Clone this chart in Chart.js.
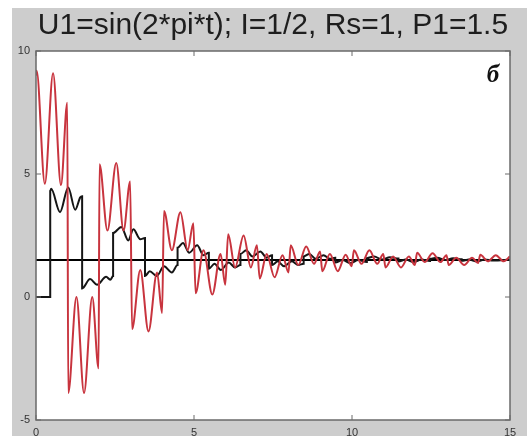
<!DOCTYPE html>
<html>
<head>
<meta charset="utf-8">
<script src="https://cdn.jsdelivr.net/npm/chart.js@4.4.1/dist/chart.umd.min.js"></script>
<style>
  html, body { margin: 0; padding: 0; background: #fff; }
  #wrap { width: 527px; height: 436px; }
</style>
</head>
<body>
<div id="wrap"><canvas id="c" width="527" height="436"></canvas></div>
<script>
// values
const titleText = 'U1=sin(2*pi*t); I=1/2, Rs=1, P1=1.5';
const panelLabel = 'б';
const xTicks = [0, 5, 10, 15];
const yTicks = [-5, 0, 5, 10];

// red curve: extremes and jump points
const redT = [
  0.00, 0.02, 0.28, 0.54, 0.79, 0.99,
  1.02, 1.28, 1.52, 1.78, 1.98,
  2.01, 2.26, 2.54, 2.77, 2.98,
  3.04, 3.30, 3.56, 3.83, 3.99,
  4.05, 4.30, 4.57, 4.80, 4.98,
  5.05, 5.30, 5.58, 5.84, 5.99,
  6.08, 6.30, 6.57, 6.80, 6.99,
  7.08, 7.30, 7.55, 7.80, 7.99,
  8.06, 8.30, 8.55, 8.80, 8.99,
  9.06, 9.30, 9.55, 9.80, 9.99,
  10.06, 10.30, 10.55, 10.80, 10.99,
  11.06, 11.30, 11.55, 11.80, 11.99,
  12.06, 12.30, 12.55, 12.80, 12.99,
  13.06, 13.30, 13.55, 13.80, 13.99,
  14.06, 14.30, 14.55, 14.80, 15.00
];
const redY = [
  9.0, 9.2, 4.6, 9.1, 4.55, 7.9,
  -3.9, 0.0, -3.9, 0.0, -2.9,
  5.4, 2.7, 5.45, 2.7, 4.7,
  -1.3, 1.1, -1.4, 1.0, -0.65,
  3.5, 1.9, 3.45, 1.9, 3.0,
  0.15, 1.9, 0.1, 1.75, 0.5,
  2.55, 1.2, 2.5, 1.2, 2.1,
  0.75, 1.75, 0.8, 1.7, 1.0,
  2.1, 1.3, 2.05, 1.35, 1.85,
  1.05, 1.75, 1.05, 1.72, 1.25,
  1.9, 1.35, 1.9, 1.35, 1.75,
  1.2, 1.65, 1.2, 1.65, 1.3,
  1.8, 1.42, 1.78, 1.42, 1.7,
  1.3, 1.6, 1.3, 1.6, 1.38,
  1.72, 1.45, 1.7, 1.45, 1.65
];

// black stepped curve
const blackT = [
  0.00, 0.45, 0.45, 0.48, 0.76, 1.02, 1.24, 1.40, 1.46,
  1.46, 1.71, 1.93, 2.22, 2.35, 2.44,
  2.44, 2.70, 2.92, 3.08, 3.30, 3.45,
  3.45, 3.60, 3.82, 4.05, 4.30, 4.48,
  4.48, 4.65, 4.85, 5.10, 5.30, 5.47,
  5.47, 5.65, 5.85, 6.10, 6.30, 6.47,
  6.47, 6.65, 6.85, 7.10, 7.30, 7.47,
  7.47, 7.65, 7.85, 8.10, 8.30, 8.47,
  8.47, 8.65, 8.85, 9.10, 9.30, 9.47,
  9.47, 9.70, 9.95, 10.20, 10.47,
  10.47, 10.70, 10.95, 11.20, 11.47,
  11.47, 11.70, 11.95, 12.20, 12.47,
  12.47, 12.70, 12.95, 13.20, 13.47,
  13.47, 13.70, 13.95, 14.20, 14.47, 15.00
];
const blackY = [
  0.0, 0.0, 4.3, 4.4, 3.45, 4.45, 3.55, 4.05, 4.1,
  0.35, 0.73, 0.5, 0.82, 0.7, 0.85,
  2.6, 2.85, 2.3, 2.75, 2.35, 2.4,
  0.85, 1.05, 0.85, 1.25, 1.0, 1.3,
  2.0, 2.2, 1.8, 2.1, 1.7, 1.8,
  1.15, 1.35, 1.1, 1.4, 1.2, 1.3,
  1.75, 1.9, 1.65, 1.85, 1.6, 1.7,
  1.3, 1.45, 1.25, 1.45, 1.3, 1.35,
  1.65, 1.75, 1.55, 1.7, 1.55, 1.6,
  1.4, 1.5, 1.38, 1.5, 1.42,
  1.58, 1.65, 1.52, 1.62, 1.56,
  1.44, 1.52, 1.42, 1.52, 1.46,
  1.55, 1.6, 1.5, 1.58, 1.53,
  1.47, 1.52, 1.45, 1.52, 1.48, 1.52
];

const setT = [0, 15];
const setY = [1.5, 1.5];

const toXY = (ts, ys) => ts.map((t, i) => ({ x: t, y: ys[i] }));

const backdrop = {
  id: 'backdrop',
  beforeDraw(chart) {
    const { ctx, chartArea: a, width, height } = chart;
    ctx.save();
    ctx.fillStyle = '#ffffff';
    ctx.fillRect(0, 0, width, height);
    ctx.fillStyle = '#cdcdcd';
    ctx.fillRect(12, 8, width - 12, height - 8);
    ctx.fillStyle = '#ffffff';
    ctx.fillRect(a.left, a.top, a.right - a.left, a.bottom - a.top);
    ctx.restore();
  },
  afterDraw(chart) {
    const { ctx, chartArea: a, scales } = chart;
    ctx.save();
    // frame
    ctx.strokeStyle = '#6a6a6a';
    ctx.lineWidth = 1.5;
    ctx.strokeRect(a.left, a.top, a.right - a.left, a.bottom - a.top);
    // inward ticks on all four sides
    ctx.lineWidth = 1;
    ctx.beginPath();
    xTicks.forEach(v => {
      const px = scales.x.getPixelForValue(v);
      ctx.moveTo(px, a.bottom); ctx.lineTo(px, a.bottom - 5);
      ctx.moveTo(px, a.top); ctx.lineTo(px, a.top + 5);
    });
    yTicks.forEach(v => {
      const py = scales.y.getPixelForValue(v);
      ctx.moveTo(a.left, py); ctx.lineTo(a.left + 5, py);
      ctx.moveTo(a.right, py); ctx.lineTo(a.right - 5, py);
    });
    ctx.stroke();
    // title and panel letter
    ctx.fillStyle = '#1e1e1e';
    ctx.textAlign = 'center';
    ctx.textBaseline = 'alphabetic';
    ctx.font = '30px "Liberation Sans", Arial, sans-serif';
    ctx.fillText(titleText, 273, 34);
    ctx.font = 'italic bold 25px "Liberation Serif", "Times New Roman", serif';
    ctx.fillStyle = '#111';
    ctx.fillText(panelLabel, 493, 82);
    ctx.restore();
  }
};

new Chart(document.getElementById('c'), {
  type: 'line',
  data: {
    datasets: [
      {
        data: toXY(redT, redY),
        borderColor: 'rgb(200,52,62)',
        borderWidth: 2,
        pointRadius: 0,
        cubicInterpolationMode: 'monotone'
      },
      {
        data: toXY(blackT, blackY),
        borderColor: '#151515',
        borderWidth: 2,
        pointRadius: 0,
        cubicInterpolationMode: 'monotone'
      },
      {
        data: toXY(setT, setY),
        borderColor: '#000',
        borderWidth: 2,
        pointRadius: 0
      }
    ]
  },
  options: {
    responsive: false,
    animation: false,
    events: [],
    layout: { padding: { left: 0, right: 17, top: 51, bottom: 0 } },
    plugins: { legend: { display: false }, tooltip: { enabled: false } },
    scales: {
      x: {
        type: 'linear', min: 0, max: 15,
        grid: { display: false, drawTicks: false },
        border: { display: false },
        afterFit: s => { s.height = 16; },
        afterBuildTicks: s => { s.ticks = xTicks.map(v => ({ value: v })); },
        ticks: { padding: 6, maxRotation: 0, autoSkip: false, color: '#333', font: { family: 'Liberation Sans', size: 11 } }
      },
      y: {
        type: 'linear', min: -5, max: 10,
        grid: { display: false, drawTicks: false },
        border: { display: false },
        afterFit: s => { s.width = 36; },
        afterBuildTicks: s => { s.ticks = yTicks.map(v => ({ value: v })); },
        ticks: { padding: 6, autoSkip: false, color: '#333', font: { family: 'Liberation Sans', size: 11 } }
      }
    }
  },
  plugins: [backdrop]
});
</script>
</body>
</html>
